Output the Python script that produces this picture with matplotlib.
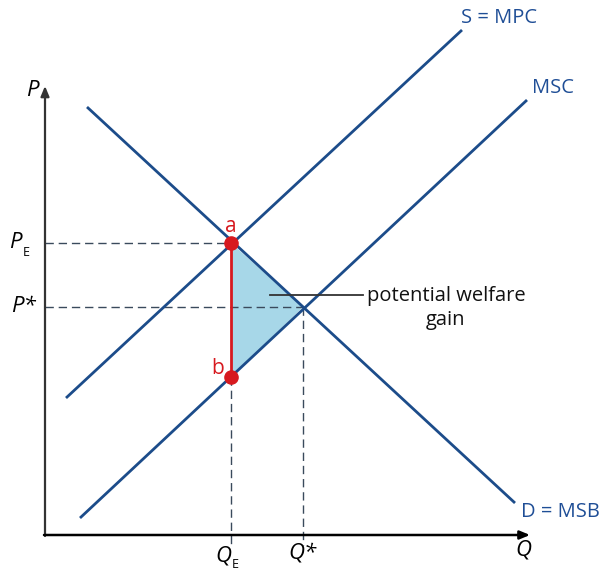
import matplotlib.pyplot as plt
from matplotlib.patches import Polygon

plt.rcParams['font.family'] = ['Open Sans', 'DejaVu Sans']

# curve endpoints (figure pixel space, y grows downward)
demand_x = [87, 515]
demand_y = [107, 503]
mpc_x = [66, 462]
mpc_y = [398, 30]
msc_x = [80, 527]
msc_y = [518, 100]

# key points
q_e, p_e = 231, 243        # point a (market equilibrium)
b_y = 377                  # point b on MSC
q_star, p_star = 303, 307  # social optimum

origin = (45, 535)
axis_ends = (530, 86)

line_col = '#1c4c8a'
text_col = '#1f4e96'
red = '#d7191f'
fill_col = '#a7d7e8'

fig = plt.figure(figsize=(6.03, 5.70), dpi=100)
ax = fig.add_axes([0, 0, 1, 1])
ax.set_xlim(0, 603)
ax.set_ylim(570, 0)
ax.axis('off')

# welfare gain triangle
tri = Polygon([(q_e, p_e), (q_e, b_y), (q_star, p_star)], closed=True,
              facecolor=fill_col, edgecolor='none', zorder=1)
ax.add_patch(tri)

# dashed guide lines
dash = dict(color='#3a4a5c', lw=1, ls=(0, (6, 3.5)), zorder=2)
ax.plot([origin[0], q_e], [p_e, p_e], **dash)
ax.plot([origin[0], q_star], [p_star, p_star], **dash)
ax.plot([q_e, q_e], [b_y, 545], **dash)
ax.plot([q_star, q_star], [p_star, 545], **dash)

# curves
for xs, ys in [(demand_x, demand_y), (mpc_x, mpc_y), (msc_x, msc_y)]:
    ax.plot(xs, ys, color=line_col, lw=2, solid_capstyle='butt', zorder=3)

# axes with arrows
ax.annotate('', xy=(origin[0], axis_ends[1]), xytext=(origin[0], origin[1] + 1),
            arrowprops=dict(arrowstyle='-|>,head_length=0.6,head_width=0.25',
                            color='#333333', lw=1.6, shrinkA=0, shrinkB=0), zorder=4)
ax.annotate('', xy=(axis_ends[0], origin[1]), xytext=(origin[0] - 1, origin[1]),
            arrowprops=dict(arrowstyle='-|>,head_length=0.6,head_width=0.25',
                            color='black', lw=1.8, shrinkA=0, shrinkB=0), zorder=4)

# a-b segment
ax.plot([q_e, q_e], [p_e, b_y], color=red, lw=2, zorder=5)
ax.scatter([q_e, q_e], [p_e, b_y], s=90, color=red, zorder=6)
ax.text(q_e, p_e - 6, 'a', color=red, fontsize=15, ha='center', va='bottom')
ax.text(q_e - 7, b_y - 9, 'b', color=red, fontsize=15, ha='right', va='center')

# leader line and annotation
ax.plot([270, 363], [295, 295], color='#333333', lw=1.3, zorder=4)
ax.text(446, 308, 'potential welfare\ngain', fontsize=14.5, ha='center', va='center',
        color='#111111', linespacing=1.25)

# curve labels
ax.text(461, 18, 'S = MPC', color=text_col, fontsize=14.5, ha='left', va='center')
ax.text(532, 88, 'MSC', color=text_col, fontsize=14.5, ha='left', va='center')
ax.text(521, 512, 'D = MSB', color=text_col, fontsize=14.5, ha='left', va='center')

# axis labels
ax.text(32, 91, 'P', style='italic', fontsize=16, ha='center', va='center')
ax.text(523, 550, 'Q', style='italic', fontsize=16, ha='center', va='center')
ax.text(22, 242, 'P', style='italic', fontsize=16, ha='right', va='center')
ax.text(23, 253, 'E', fontsize=9, ha='left', va='center')
ax.text(24, 306, 'P*', style='italic', fontsize=16, ha='center', va='center')
ax.text(231, 556, 'Q', style='italic', fontsize=16, ha='right', va='center')
ax.text(232, 565, 'E', fontsize=9, ha='left', va='center')
ax.text(303, 553, 'Q*', style='italic', fontsize=16, ha='center', va='center')

fig.savefig('out.png', dpi=100)
